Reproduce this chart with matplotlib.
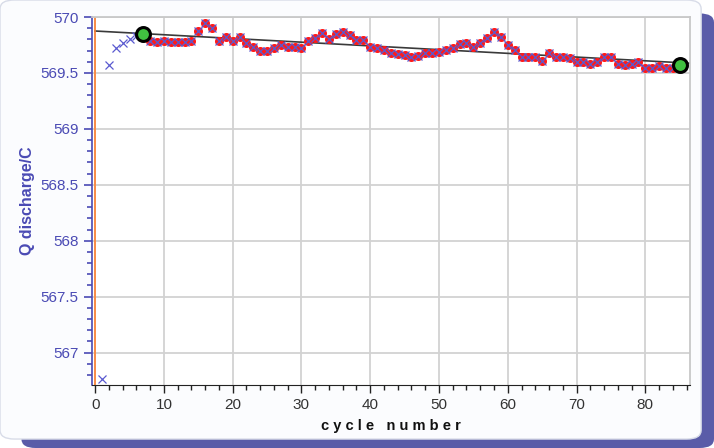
import matplotlib

matplotlib.use("Agg")
import matplotlib.pyplot as plt
from matplotlib.patches import FancyBboxPatch
from matplotlib.ticker import MultipleLocator

# Discharge capacity per cycle
early_cycles = [1, 2, 3, 4, 5, 6]
early_q = [566.76, 569.57, 569.72, 569.77, 569.80, 569.83]

cycles = list(range(7, 86))
q_discharge = [
    569.85, 569.79, 569.78, 569.79, 569.78, 569.78, 569.78, 569.79, 569.875, 569.95,
    569.90, 569.79, 569.82, 569.79, 569.82, 569.765, 569.73, 569.70, 569.70, 569.72,
    569.75, 569.73, 569.735, 569.72, 569.79, 569.815, 569.86, 569.80, 569.85, 569.87,
    569.84, 569.795, 569.795, 569.735, 569.72, 569.705, 569.675, 569.67, 569.66, 569.645,
    569.655, 569.675, 569.68, 569.69, 569.705, 569.72, 569.755, 569.765, 569.735, 569.765,
    569.815, 569.87, 569.825, 569.75, 569.705, 569.645, 569.645, 569.645, 569.61, 569.675,
    569.64, 569.64, 569.635, 569.60, 569.60, 569.58, 569.60, 569.645, 569.64, 569.58,
    569.57, 569.58, 569.60, 569.54, 569.545, 569.565, 569.545, 569.545, 569.57,
]

fit_x = [0, 86.5]
fit_y = [569.875, 569.587]

picked_x = [7, 85]
picked_y = [569.85, 569.57]

BLUE = "#4a4ab4"

fig = plt.figure(figsize=(7.14, 4.48), dpi=100)
fig.patch.set_facecolor("white")

# Framed panel with a blue drop shadow
fig.patches.append(FancyBboxPatch((0.03, 0.0), 0.97, 0.97, boxstyle="round,pad=0,rounding_size=0.02",
                                  transform=fig.transFigure, facecolor="#5a5ca8", edgecolor="none", zorder=-3))
fig.patches.append(FancyBboxPatch((0.0, 0.02), 0.982, 0.98, boxstyle="round,pad=0,rounding_size=0.02",
                                  transform=fig.transFigure, facecolor="#fbfcfe", edgecolor="#d8dce8",
                                  linewidth=1.0, zorder=-2))

ax = fig.add_axes([0.1289, 0.1406, 0.8375, 0.8214])
ax.set_facecolor("white")

ax.plot(fit_x, fit_y, color="#3a3a3a", lw=1.2, zorder=2)
ax.plot(cycles, q_discharge, "o", color="#ff1a1a", ms=6.5, mec="none", zorder=3)
ax.plot(early_cycles + cycles, early_q + q_discharge, "x", color="#5a5ad0", ms=6, mew=0.9, zorder=4)
ax.plot(picked_x, picked_y, "o", color="#40c040", ms=10, mec="black", mew=2.2, zorder=5)
ax.axvline(0, color="#ff8030", lw=1.2, zorder=2)

ax.set_xlim(-0.45, 86.5)
ax.set_ylim(566.71, 570)
ax.xaxis.set_major_locator(MultipleLocator(10))
ax.xaxis.set_minor_locator(MultipleLocator(2))
ax.yaxis.set_major_locator(MultipleLocator(0.5))
ax.yaxis.set_minor_locator(MultipleLocator(0.1))
ax.yaxis.set_major_formatter(plt.FuncFormatter(lambda v, p: f"{v:g}"))

ax.grid(True, which="major", color="#d2d2d2", lw=1.3, zorder=0)
ax.set_axisbelow(True)

for side in ("top", "right"):
    ax.spines[side].set_color("#c8c8c8")
    ax.spines[side].set_linewidth(1.3)
ax.spines["left"].set_color(BLUE)
ax.spines["left"].set_linewidth(1.2)
ax.spines["bottom"].set_color("#222222")

ax.tick_params(axis="y", which="major", colors=BLUE, length=6, width=1.2, labelsize=11)
ax.tick_params(axis="y", which="minor", colors=BLUE, length=3.5, width=1.2)
ax.tick_params(axis="x", which="major", colors="#222222", length=6, width=1.0, labelsize=11)
ax.tick_params(axis="x", which="minor", colors="#222222", length=3.5, width=1.0)
for lbl in ax.get_yticklabels():
    lbl.set_family("Liberation Sans")
for lbl in ax.get_xticklabels():
    lbl.set_family("Liberation Sans")
    lbl.set_color("#333333")

ax.set_ylabel("Q discharge/C", color=BLUE, fontsize=11.5, fontweight="bold",
              family="Liberation Sans", labelpad=4)
ax.set_xlabel("c y c l e   n u m b e r", color="#111111", fontsize=10.5, fontweight="bold",
              family="Liberation Sans", labelpad=5)

fig.savefig("out.png", dpi=100)
